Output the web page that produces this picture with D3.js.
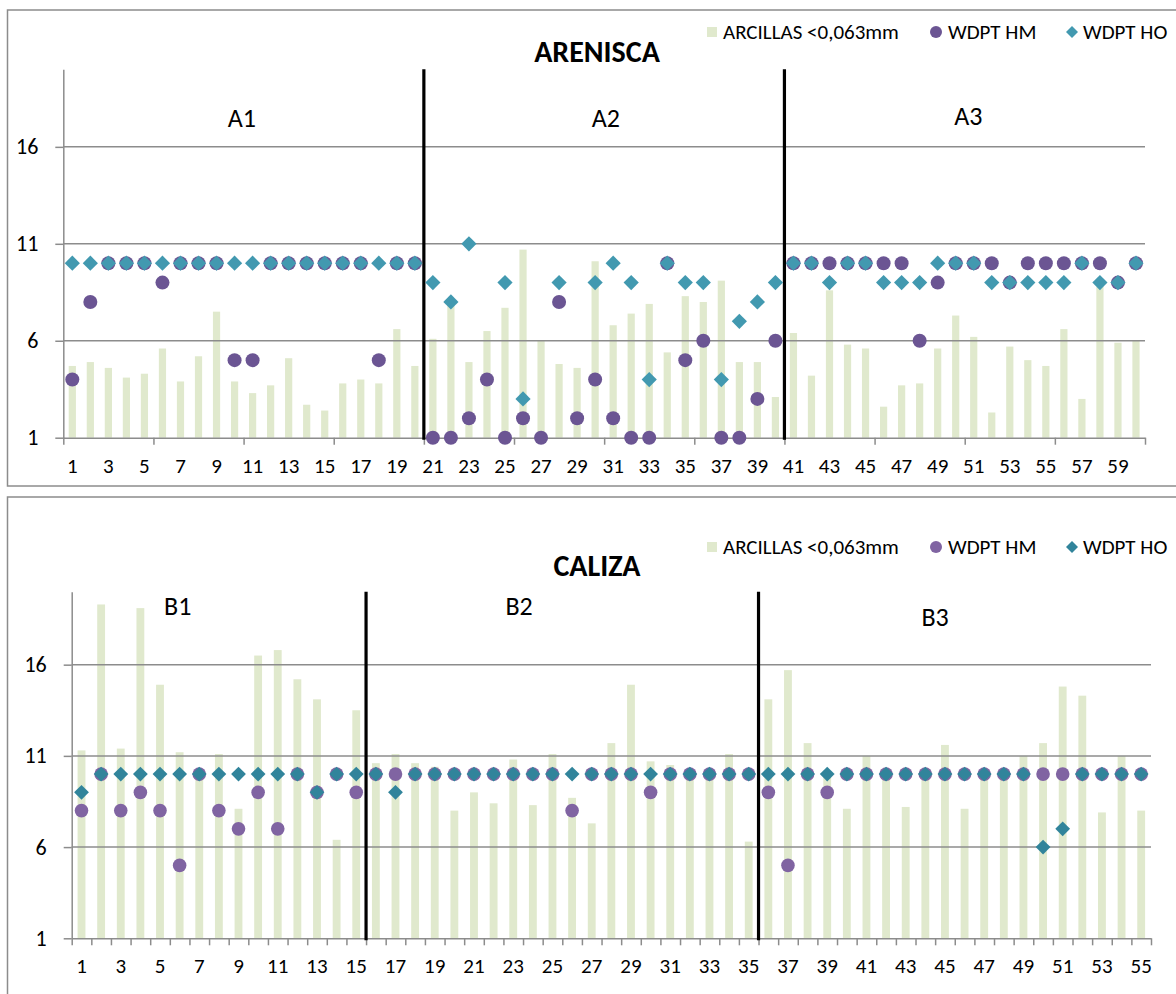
<!DOCTYPE html>
<html>
<head>
<meta charset="utf-8">
<title>ARENISCA / CALIZA</title>
<style>
  body { margin: 0; background: #fff; }
  svg { font-family: Carlito, Calibri, Lato, sans-serif; }
</style>
</head>
<body>
<script src="https://cdn.jsdelivr.net/npm/d3@7/dist/d3.min.js"></script>
<script>
    // ---- data ----
    var yTicks = [1, 6, 11, 16];
    var seriesNames = ['ARCILLAS <0,063mm', 'WDPT HM', 'WDPT HO'];

    // ARENISCA (60 muestras)
    var arenCats = d3.range(1, 61);
    var arenArcillas = [4.7, 4.9, 4.6, 4.1, 4.3, 5.6, 3.9, 5.2, 7.5, 3.9, 3.3, 3.7, 5.1, 2.7, 2.4, 3.8, 4.0, 3.8, 6.6, 4.7,
        6.1, 7.9, 4.9, 6.5, 7.7, 10.7, 6.0, 4.8, 4.6, 10.1, 6.8, 7.4, 7.9, 5.4, 8.3, 8.0, 9.1, 4.9, 4.9, 3.1,
        6.4, 4.2, 8.6, 5.8, 5.6, 2.6, 3.7, 3.8, 5.6, 7.3, 6.2, 2.3, 5.7, 5.0, 4.7, 6.6, 3.0, 8.8, 5.9, 6.0];
    var arenHM = [4, 8, 10, 10, 10, 9, 10, 10, 10, 5, 5, 10, 10, 10, 10, 10, 10, 5, 10, 10,
        1, 1, 2, 4, 1, 2, 1, 8, 2, 4, 2, 1, 1, 10, 5, 6, 1, 1, 3, 6,
        10, 10, 10, 10, 10, 10, 10, 6, 9, 10, 10, 10, 9, 10, 10, 10, 10, 10, 9, 10];
    var arenHO = [10, 10, 10, 10, 10, 10, 10, 10, 10, 10, 10, 10, 10, 10, 10, 10, 10, 10, 10, 10,
        9, 8, 11, null, 9, 3, null, 9, null, 9, 10, 9, 4, 10, 9, 9, 4, 7, 8, 9,
        10, 10, 9, 10, 10, 9, 9, 9, 10, 10, 10, 9, 9, 9, 9, 9, 10, 9, 9, 10];
    var arenSections = [{name: 'A1', pos: 9.9, val: 17.5}, {name: 'A2', pos: 30.1, val: 17.5}, {name: 'A3', pos: 50.2, val: 17.6}];
    var arenBreaks = [20, 40];

    // CALIZA (55 muestras)
    var calCats = d3.range(1, 56);
    var calArcillas = [11.3, 19.3, 11.4, 19.1, 14.9, 11.2, 10.0, 11.1, 8.1, 16.5, 16.8, 15.2, 14.1, 6.4, 13.5,
        10.6, 11.1, 10.6, 10.4, 8.0, 9.0, 8.4, 10.8, 8.3, 11.1, 8.7, 7.3, 11.7, 14.9, 10.7, 10.5, 10.0, 10.0, 11.1, 6.3,
        14.1, 15.7, 11.7, 10.0, 8.1, 11.0, 10.0, 8.2, 10.0, 11.6, 8.1, 10.0, 10.0, 11.0, 11.7, 14.8, 14.3, 7.9, 11.0, 8.0];
    var calHM = [8, 10, 8, 9, 8, 5, 10, 8, 7, 9, 7, 10, 9, 10, 9,
        10, 10, 10, 10, 10, 10, 10, 10, 10, 10, 8, 10, 10, 10, 9, 10, 10, 10, 10, 10,
        9, 5, 10, 9, 10, 10, 10, 10, 10, 10, 10, 10, 10, 10, 10, 10, 10, 10, 10, 10];
    var calHO = [9, 10, 10, 10, 10, 10, 10, 10, 10, 10, 10, 10, 9, 10, 10,
        10, 9, 10, 10, 10, 10, 10, 10, 10, 10, 10, 10, 10, 10, 10, 10, 10, 10, 10, 10,
        10, 10, 10, 10, 10, 10, 10, 10, 10, 10, 10, 10, 10, 10, 6, 7, 10, 10, 10, 10];
    var calSections = [{name: 'B1', pos: 5.4, val: 19.2}, {name: 'B2', pos: 22.8, val: 19.2}, {name: 'B3', pos: 44.0, val: 18.6}];
    var calBreaks = [15, 35];

    var barColor = '#e0e9cd';
    var gridColor = '#8c8c8c';
    var font = 'Carlito, Calibri, Lato, sans-serif';

    var svg = d3.select('body').append('svg')
            .attr('width', 1176)
            .attr('height', 994);

    function diamondPath(s) {
        return 'M0,' + (-s) + 'L' + s + ',0L0,' + s + 'L' + (-s) + ',0Z';
    }

    function drawChart(cfg) {
        var g = svg.append('g');
        var p = cfg.plot;
        var n = cfg.cats.length;

        // chart frame
        g.append('rect')
                .attr('x', cfg.frame.x).attr('y', cfg.frame.y)
                .attr('width', cfg.frame.w).attr('height', cfg.frame.h)
                .style('fill', 'none').style('stroke', gridColor).style('stroke-width', 1.5);

        var x = d3.scaleBand()
                .domain(cfg.cats)
                .range([p.left, p.right])
                .paddingInner(0.6)
                .paddingOuter(0.3);
        var xPos = d3.scaleLinear().domain([0, n]).range([p.left, p.right]);
        var y = d3.scaleLinear().domain([1, 20]).range([p.bottom, p.top]);

        var rows = cfg.cats.map(function (c, i) {
            return {c: c, bar: cfg.bars[i], hm: cfg.hm[i], ho: cfg.ho[i]};
        });

        // bars
        g.append('g').selectAll('rect').data(rows).join('rect')
                .attr('x', function (d) { return x(d.c); })
                .attr('y', function (d) { return y(d.bar); })
                .attr('width', x.bandwidth())
                .attr('height', function (d) { return y(1) - y(d.bar); })
                .style('fill', barColor);

        // gridlines (over the pale bars, as in the original)
        g.append('g').selectAll('line').data(yTicks.slice(1)).join('line')
                .attr('x1', p.left).attr('x2', p.right)
                .attr('y1', function (d) { return y(d); })
                .attr('y2', function (d) { return y(d); })
                .style('stroke', gridColor).style('stroke-width', 1.5);

        // y axis
        var yAxis = g.append('g')
                .attr('transform', 'translate(' + p.left + ',0)')
                .call(d3.axisLeft(y).tickValues(yTicks).tickSize(8).tickSizeOuter(0).tickPadding(17));
        yAxis.selectAll('path, line').style('stroke', gridColor).style('stroke-width', 1.5);
        yAxis.selectAll('text').style('font-size', '22px').style('fill', '#000').style('font-family', font);

        // x axis: ticks on category boundaries
        var xTickAxis = g.append('g')
                .attr('transform', 'translate(0,' + p.bottom + ')')
                .call(d3.axisBottom(xPos)
                        .tickValues(d3.range(0, n + 1, cfg.tickEvery))
                        .tickSize(7).tickSizeOuter(0).tickFormat(''));
        xTickAxis.selectAll('path, line').style('stroke', gridColor).style('stroke-width', 1.5);

        // x labels on odd categories
        var xLabelAxis = g.append('g')
                .attr('transform', 'translate(0,' + p.bottom + ')')
                .call(d3.axisBottom(x)
                        .tickValues(cfg.cats.filter(function (c) { return c % 2 === 1; }))
                        .tickSize(0).tickPadding(20));
        xLabelAxis.select('.domain').remove();
        xLabelAxis.selectAll('text').style('font-size', '21px').style('fill', '#000').style('font-family', font);

        // section separators
        g.append('g').selectAll('line').data(cfg.breaks).join('line')
                .attr('x1', function (d) { return xPos(d); })
                .attr('x2', function (d) { return xPos(d); })
                .attr('y1', y(20))
                .attr('y2', y(1) + 2)
                .style('stroke', '#000').style('stroke-width', 3.2);

        // section labels
        g.append('g').selectAll('text').data(cfg.sections).join('text')
                .attr('x', function (d) { return xPos(d.pos); })
                .attr('y', function (d) { return y(d.val); })
                .attr('text-anchor', 'middle')
                .attr('dy', '0.35em')
                .style('font-size', '26px')
                .text(function (d) { return d.name; });

        var cx = function (d) { return x(d.c) + x.bandwidth() / 2; };

        // WDPT HM circles
        g.append('g').selectAll('circle')
                .data(rows.filter(function (d) { return d.hm != null; }))
                .join('circle')
                .attr('cx', cx)
                .attr('cy', function (d) { return y(d.hm); })
                .attr('r', cfg.r)
                .style('fill', cfg.hmColor);

        // WDPT HO diamonds
        g.append('g').selectAll('path')
                .data(rows.filter(function (d) { return d.ho != null; }))
                .join('path')
                .attr('d', diamondPath(cfg.r + 0.6))
                .attr('transform', function (d) { return 'translate(' + cx(d) + ',' + y(d.ho) + ')'; })
                .style('fill', cfg.hoColor);

        // title
        g.append('text')
                .attr('x', 597)
                .attr('y', cfg.titleY)
                .attr('text-anchor', 'middle')
                .style('font-size', '30px')
                .style('font-weight', 'bold')
                .text(cfg.title);

        // legend
        var lg = g.append('g').attr('transform', 'translate(0,' + cfg.legendY + ')');
        lg.append('rect').attr('x', 707).attr('y', -5).attr('width', 10).attr('height', 10).style('fill', barColor);
        lg.append('circle').attr('cx', 936).attr('cy', 0).attr('r', 6).style('fill', cfg.hmColor);
        lg.append('path').attr('d', diamondPath(6)).attr('transform', 'translate(1072,0)').style('fill', cfg.hoColor);
        lg.selectAll('text').data(seriesNames).join('text')
                .attr('x', function (d, i) { return [723, 948, 1083][i]; })
                .attr('y', 0)
                .attr('dy', '0.35em')
                .style('font-size', '21px')
                .text(function (d) { return d; });
    }

    drawChart({
        title: 'ARENISCA', titleY: 62, legendY: 32,
        cats: arenCats, bars: arenArcillas, hm: arenHM, ho: arenHO,
        sections: arenSections, breaks: arenBreaks, tickEvery: 5,
        frame: {x: 7.5, y: 10, w: 1180, h: 476},
        plot: {left: 63.3, right: 1145, top: 69.3, bottom: 437.7},
        r: 7, hmColor: '#6b5593', hoColor: '#4299b0'
    });

    drawChart({
        title: 'CALIZA', titleY: 576, legendY: 547,
        cats: calCats, bars: calArcillas, hm: calHM, ho: calHO,
        sections: calSections, breaks: calBreaks, tickEvery: 1,
        frame: {x: 7.5, y: 497, w: 1180, h: 510},
        plot: {left: 71.7, right: 1151, top: 591.7, bottom: 938.3},
        r: 6.8, hmColor: '#8064a2', hoColor: '#31849b'
    });
</script>
</body>
</html>
